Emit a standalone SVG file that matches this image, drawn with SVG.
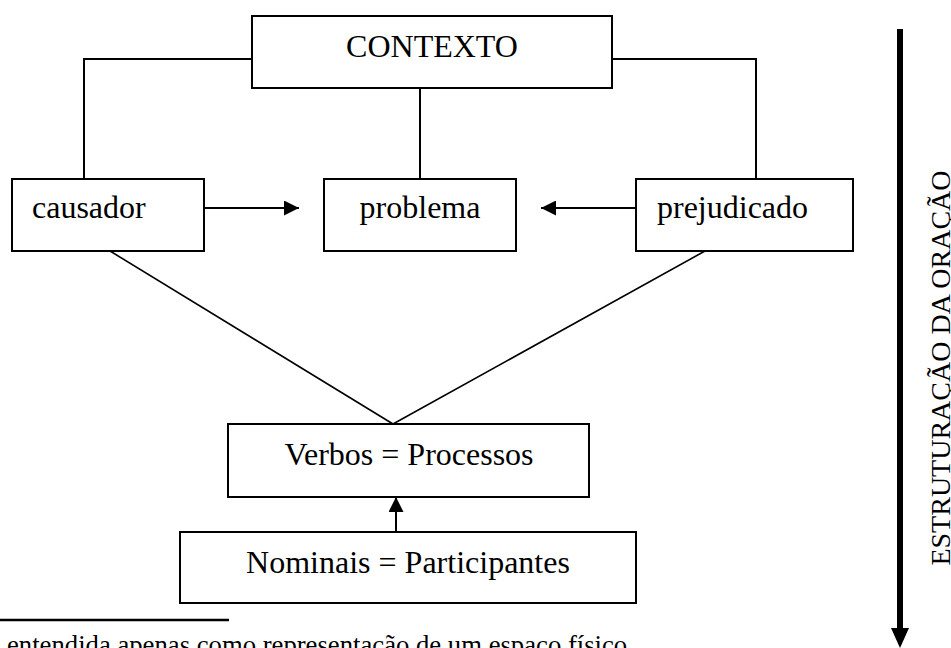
<svg xmlns="http://www.w3.org/2000/svg" width="951" height="648" viewBox="0 0 951 648">
  <style>
    .box { fill: #ffffff; stroke: #000000; stroke-width: 2; }
    .lbl { font-family: "Liberation Serif", "Times New Roman", serif; font-size: 32px; fill: #000000; }
    .mid { text-anchor: middle; }
    .conn { fill: none; stroke: #000000; stroke-width: 2; }
    .diag { fill: none; stroke: #000000; stroke-width: 1.6; }
    .note { font-family: "Liberation Serif", "Times New Roman", serif; font-size: 26.7px; fill: #000000; }
    .side { font-family: "Liberation Serif", "Times New Roman", serif; font-size: 28px; fill: #000000; text-anchor: middle; }
  </style>
  <defs>
    <marker id="ah" viewBox="0 0 15 15" refX="15" refY="7.5" markerWidth="15" markerHeight="15" markerUnits="userSpaceOnUse" orient="auto">
      <path d="M0,0 L15,7.5 L0,15 z" fill="#000000"/>
    </marker>
    <marker id="bigah" viewBox="0 0 20 18" refX="1" refY="9" markerWidth="20" markerHeight="18" markerUnits="userSpaceOnUse" orient="auto">
      <path d="M0,0 L20,9 L0,18 z" fill="#000000"/>
    </marker>
  </defs>

  <g id="connectors">
    <polyline class="conn" points="252,59 84,59 84,179"/>
    <line class="conn" x1="420" y1="88" x2="420" y2="179"/>
    <polyline class="conn" points="612,59 756,59 756,179"/>
    <line class="conn" x1="204" y1="208" x2="299" y2="208" marker-end="url(#ah)"/>
    <line class="conn" x1="636" y1="208" x2="541" y2="208" marker-end="url(#ah)"/>
    <line class="diag" x1="110" y1="251" x2="393" y2="424"/>
    <line class="diag" x1="705" y1="251" x2="393" y2="424"/>
    <line class="conn" x1="396" y1="532" x2="396" y2="497" marker-end="url(#ah)"/>
    <line stroke="#000000" stroke-width="6" x1="900" y1="29" x2="900" y2="629" marker-end="url(#bigah)"/>
  </g>

  <g id="contexto">
    <rect class="box" x="252" y="16" width="360" height="72"/>
    <text class="lbl mid" x="432" y="57">CONTEXTO</text>
  </g>
  <g id="causador">
    <rect class="box" x="12" y="179" width="192" height="72"/>
    <text class="lbl" x="32" y="218">causador</text>
  </g>
  <g id="problema">
    <rect class="box" x="324" y="179" width="192" height="72"/>
    <text class="lbl mid" x="420" y="218">problema</text>
  </g>
  <g id="prejudicado">
    <rect class="box" x="636" y="179" width="217" height="72"/>
    <text class="lbl" x="657" y="218">prejudicado</text>
  </g>
  <g id="verbos">
    <rect class="box" x="228" y="424" width="361" height="73"/>
    <text class="lbl mid" x="409" y="465">Verbos = Processos</text>
  </g>
  <g id="nominais">
    <rect class="box" x="180" y="532" width="456" height="71"/>
    <text class="lbl mid" x="408" y="573">Nominais = Participantes</text>
  </g>

  <g id="estruturacao">
    <text class="side" transform="translate(950,368) rotate(-90)">ESTRUTURAÇÃO DA ORAÇÃO</text>
  </g>

  <g id="footnote">
    <line stroke="#000000" stroke-width="2.5" x1="0" y1="620" x2="229" y2="620"/>
    <text class="note" x="7" y="654">entendida apenas como representação de um espaço físico.</text>
  </g>
</svg>
